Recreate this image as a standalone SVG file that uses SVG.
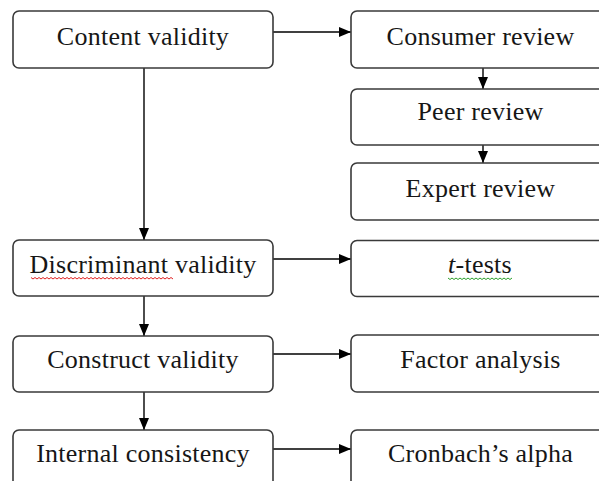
<svg xmlns="http://www.w3.org/2000/svg" width="599" height="481" viewBox="0 0 599 481">
  <defs>
    <style>
      .box { fill: #ffffff; stroke: #3a3a3a; stroke-width: 1.6; }
      .lbl { font-family: "Liberation Serif", "Times New Roman", serif; font-size: 26px; letter-spacing: 0.25px; fill: #161616; text-anchor: middle; }
      .edge { stroke: #000000; stroke-width: 1.4; fill: none; marker-end: url(#head); }
      .spell-red { stroke: #e02020; stroke-width: 1; fill: none; }
      .spell-green { stroke: #2aa02a; stroke-width: 1; fill: none; }
    </style>
    <marker id="head" markerWidth="12" markerHeight="10" refX="12" refY="5" orient="auto" markerUnits="userSpaceOnUse">
      <path d="M0,0 L12,5 L0,10 Z" fill="#000000"/>
    </marker>
  </defs>
  <rect width="599" height="481" fill="#ffffff"/>

  <!-- connectors -->
  <g id="connectors">
    <line class="edge" x1="273" y1="32" x2="351" y2="32"/>
    <line class="edge" x1="483" y1="68" x2="483" y2="89"/>
    <line class="edge" x1="483" y1="145" x2="483" y2="163"/>
    <line class="edge" x1="144" y1="68" x2="144" y2="240"/>
    <line class="edge" x1="273" y1="259" x2="351" y2="259"/>
    <line class="edge" x1="144" y1="296" x2="144" y2="336"/>
    <line class="edge" x1="273" y1="354" x2="351" y2="354"/>
    <line class="edge" x1="144" y1="392" x2="144" y2="430"/>
    <line class="edge" x1="273" y1="449" x2="351" y2="449"/>
  </g>

  <!-- left column -->
  <g id="content-validity">
    <rect class="box" x="13" y="11" width="260" height="57" rx="6"/>
    <text class="lbl" x="143" y="45">Content validity</text>
  </g>
  <g id="discriminant-validity">
    <rect class="box" x="13" y="240" width="260" height="56" rx="6"/>
    <text class="lbl" x="143" y="272.5">Discriminant validity</text>
    <path class="spell-red" d="M31,277.5 l2,1.5 l2,-1.5 l2,1.5 l2,-1.5 l2,1.5 l2,-1.5 l2,1.5 l2,-1.5 l2,1.5 l2,-1.5 l2,1.5 l2,-1.5 l2,1.5 l2,-1.5 l2,1.5 l2,-1.5 l2,1.5 l2,-1.5 l2,1.5 l2,-1.5 l2,1.5 l2,-1.5 l2,1.5 l2,-1.5 l2,1.5 l2,-1.5 l2,1.5 l2,-1.5 l2,1.5 l2,-1.5 l2,1.5 l2,-1.5 l2,1.5 l2,-1.5 l2,1.5 l2,-1.5 l2,1.5 l2,-1.5 l2,1.5 l2,-1.5 l2,1.5 l2,-1.5 l2,1.5 l2,-1.5 l2,1.5 l2,-1.5 l2,1.5 l2,-1.5 l2,1.5 l2,-1.5 l2,1.5 l2,-1.5 l2,1.5 l2,-1.5 l2,1.5 l2,-1.5 l2,1.5 l2,-1.5 l2,1.5 l2,-1.5 l2,1.5 l2,-1.5 l2,1.5 l2,-1.5 l2,1.5 l2,-1.5 l2,1.5 l2,-1.5 l2,1.5 l2,-1.5 l2,1.5"/>
  </g>
  <g id="construct-validity">
    <rect class="box" x="13" y="336" width="260" height="56" rx="6"/>
    <text class="lbl" x="143" y="367.5">Construct validity</text>
  </g>
  <g id="internal-consistency">
    <rect class="box" x="13" y="430" width="260" height="70" rx="6"/>
    <text class="lbl" x="143" y="461.5">Internal consistency</text>
  </g>

  <!-- right column -->
  <g id="consumer-review">
    <rect class="box" x="351" y="11" width="262" height="57" rx="6"/>
    <text class="lbl" x="480.5" y="45">Consumer review</text>
  </g>
  <g id="peer-review">
    <rect class="box" x="351" y="89" width="262" height="56" rx="6"/>
    <text class="lbl" x="480.5" y="120">Peer review</text>
  </g>
  <g id="expert-review">
    <rect class="box" x="351" y="163" width="262" height="57" rx="6"/>
    <text class="lbl" x="480.5" y="196.5">Expert review</text>
  </g>
  <g id="t-tests">
    <rect class="box" x="351" y="240.5" width="262" height="56" rx="6"/>
    <text class="lbl" x="480" y="272.5"><tspan font-style="italic">t</tspan>-tests</text>
    <path class="spell-green" d="M448,278 l2,1.5 l2,-1.5 l2,1.5 l2,-1.5 l2,1.5 l2,-1.5 l2,1.5 l2,-1.5 l2,1.5 l2,-1.5 l2,1.5 l2,-1.5 l2,1.5 l2,-1.5 l2,1.5 l2,-1.5 l2,1.5 l2,-1.5 l2,1.5 l2,-1.5 l2,1.5 l2,-1.5 l2,1.5 l2,-1.5 l2,1.5 l2,-1.5 l2,1.5 l2,-1.5 l2,1.5 l2,-1.5 l2,1.5 l2,-1.5"/>
  </g>
  <g id="factor-analysis">
    <rect class="box" x="351" y="335" width="262" height="57" rx="6"/>
    <text class="lbl" x="480.5" y="367.5">Factor analysis</text>
  </g>
  <g id="cronbachs-alpha">
    <rect class="box" x="351" y="430" width="262" height="70" rx="6"/>
    <text class="lbl" x="480.5" y="461.5">Cronbach’s alpha</text>
  </g>
</svg>
